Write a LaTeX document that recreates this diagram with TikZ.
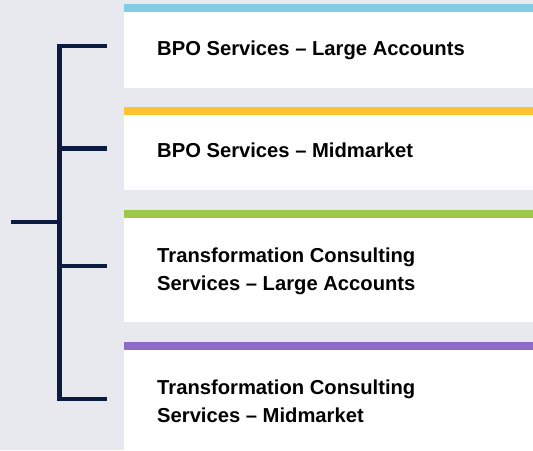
\documentclass[tikz,border=0pt]{standalone}
\usepackage{fontspec}
\setmainfont{Liberation Sans}
\usetikzlibrary{positioning}

\definecolor{pagebg}{HTML}{E8E9EE}
\definecolor{navy}{HTML}{0B1B3F}
\definecolor{barblue}{HTML}{82CDE3}
\definecolor{baryellow}{HTML}{FFC233}
\definecolor{bargreen}{HTML}{9DC84A}
\definecolor{barpurple}{HTML}{8C6CC8}

\begin{document}
\begin{tikzpicture}[x=1pt, y=-1pt, box/.style = {fill=white, anchor=north west, minimum width=409pt, inner sep=0pt}, lbl/.style = {anchor=base west, inner sep=0pt, align=left, font=\bfseries\fontsize{20.2}{28}\selectfont}, brace/.style = {draw=navy, line width=4.5pt}]
\fill[pagebg] (0,0) rectangle (533,450);
\useasboundingbox (0,0) rectangle (533,450);

% boxes
\node[box, minimum height=84pt] (b1) at (124,4) {};
\node[box, minimum height=83pt] (b2) at (124,107) {};
\node[box, minimum height=112pt] (b3) at (124,210) {};
\node[box, minimum height=114pt] (b4) at (124,342) {};

% colour bars
\fill[barblue] (b1.north west) rectangle ++(409,8);
\fill[baryellow] (b2.north west) rectangle ++(409,8);
\fill[bargreen] (b3.north west) rectangle ++(409,8);
\fill[barpurple] (b4.north west) rectangle ++(409,8);

% labels (base = last line)
\node[lbl] (t1) at (157,55) {BPO Services -- Large Accounts};
\node[lbl] (t2) at (157,157) {BPO Services -- Midmarket};
\node[lbl] (t3) at (157,290) {Transformation Consulting\\Services -- Large Accounts};
\node[lbl] (t4) at (157,422) {Transformation Consulting\\Services -- Midmarket};

% bracket
\coordinate (sp) at (59.5,0);
\coordinate (root) at (11,222);
\draw[brace, line cap=rect] (sp |- b1.west) -- (sp |- b4.west);
\draw[brace] (root) -- (sp |- root);
\draw[brace] (sp |- b1.west) -- ([xshift=-17pt]b1.west);
\draw[brace] (sp |- b2.west) -- ([xshift=-17pt]b2.west);
\draw[brace] (sp |- b3.west) -- ([xshift=-17pt]b3.west);
\draw[brace] (sp |- b4.west) -- ([xshift=-17pt]b4.west);
\end{tikzpicture}
\end{document}
